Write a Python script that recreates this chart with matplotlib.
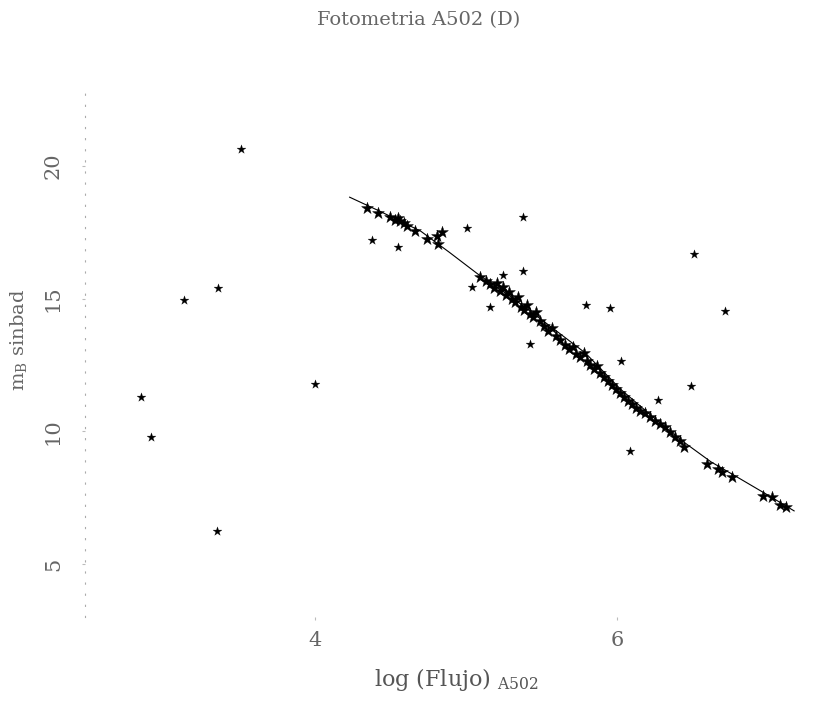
import matplotlib.pyplot as plt

plt.rcParams['mathtext.fontset'] = 'dejavuserif'

# curve (calibration line)
curve_x = [4.23, 4.43, 4.70, 4.89, 5.09, 5.32, 5.56, 5.79, 6.02, 6.22, 6.42, 6.62, 6.81, 7.01, 7.17]
curve_y = [18.83, 18.30, 17.55, 16.75, 15.88, 14.98, 13.95, 12.95, 11.60, 10.62, 9.68, 8.85, 8.22, 7.55, 7.00]

# stars lying along the curve
band_x = [4.344, 4.417, 4.497, 4.530, 4.563, 4.589, 4.609, 4.550, 4.662, 4.742, 4.808, 4.841, 4.815,
          5.093, 5.132, 5.159, 5.185, 5.205, 5.225, 5.245, 5.265, 5.285, 5.305, 5.325, 5.344,
          5.364, 5.384, 5.404, 5.424, 5.444, 5.464, 5.490, 5.517, 5.543, 5.570, 5.596, 5.623,
          5.656, 5.682, 5.709, 5.728, 5.755, 5.781, 5.801, 5.821, 5.848, 5.868, 5.887, 5.914,
          5.940, 5.967, 5.993, 6.020, 6.046, 6.073, 6.099, 6.126, 6.152,
          6.185, 6.219, 6.252, 6.285, 6.318, 6.351, 6.384, 6.417, 6.444,
          6.596, 6.669, 6.695, 6.762, 6.967, 7.026, 7.079, 7.113]
band_y = [18.42, 18.23, 18.08, 17.96, 17.92, 17.85, 17.74, 18.04, 17.55, 17.25, 17.36, 17.51, 17.06,
          15.81, 15.66, 15.55, 15.40, 15.58, 15.28, 15.43, 15.13, 15.25, 14.98, 14.87, 15.06,
          14.68, 14.57, 14.75, 14.42, 14.30, 14.49, 14.15, 13.96, 13.77, 13.89, 13.58, 13.43,
          13.25, 13.09, 13.17, 12.91, 12.79, 12.94, 12.64, 12.49, 12.34, 12.45, 12.19, 12.04,
          11.89, 11.74, 11.58, 11.43, 11.28, 11.13, 11.02, 10.87, 10.75,
          10.68, 10.53, 10.38, 10.26, 10.15, 9.96, 9.77, 9.62, 9.40,
          8.75, 8.57, 8.45, 8.26, 7.58, 7.51, 7.21, 7.13]

# scattered stars off the curve
out_x = [2.848, 2.914, 3.132, 3.358, 3.351, 3.510, 4.000, 4.377, 4.550, 5.007, 5.377, 5.377,
         5.245, 5.040, 5.159, 5.424, 5.795, 5.954, 6.026, 6.086, 6.272, 6.490, 6.510, 6.715]
out_y = [11.28, 9.77, 14.94, 15.40, 6.23, 20.64, 11.77, 17.21, 16.94, 17.66, 18.08, 16.04,
         15.89, 15.43, 14.68, 13.28, 14.75, 14.64, 12.64, 9.25, 11.17, 11.70, 16.68, 14.53]

fig = plt.figure(figsize=(8.37, 7.18), dpi=100)
ax = fig.add_axes([0.1016, 0.1407, 0.8544, 0.7313])

ax.plot(curve_x, curve_y, color='black', lw=0.8)
ax.scatter(band_x, band_y, marker='*', s=80, color='black', linewidths=0.3)
ax.scatter(out_x, out_y, marker='*', s=45, color='black', linewidths=0.2)

ax.set_xlim(2.48, 7.21)
ax.set_ylim(3.0, 22.8)

for s in ['top', 'right', 'bottom']:
    ax.spines[s].set_visible(False)
ax.spines['left'].set_linestyle((0, (1, 9)))
ax.spines['left'].set_color('#aaaaaa')

ax.set_xticks([4, 6])
ax.set_yticks([5, 10, 15, 20])
ax.tick_params(axis='both', length=2, color='#bbbbbb', labelcolor='#666666', labelsize=15, pad=8)
ax.tick_params(axis='y', pad=14)
for lab in ax.get_yticklabels():
    lab.set_rotation(90)
    lab.set_va('center')
for lab in ax.get_xticklabels() + ax.get_yticklabels():
    lab.set_family('DejaVu Serif')
    lab.set_fontweight('light')

fig.text(0.50, 0.972, 'Fotometria A502 (D)', ha='center', va='center',
         fontsize=14, color='#666666', family='DejaVu Serif')
fig.text(0.022, 0.527, r'm$_{\rm B}$ sinbad', rotation=90, ha='center', va='center',
         fontsize=14, color='#666666', family='DejaVu Serif')
fig.text(0.545, 0.053, r'log (Flujo) $_{\rm A502}$', ha='center', va='center',
         fontsize=16, color='#555555', family='DejaVu Serif')

fig.savefig('out.png', dpi=100)
